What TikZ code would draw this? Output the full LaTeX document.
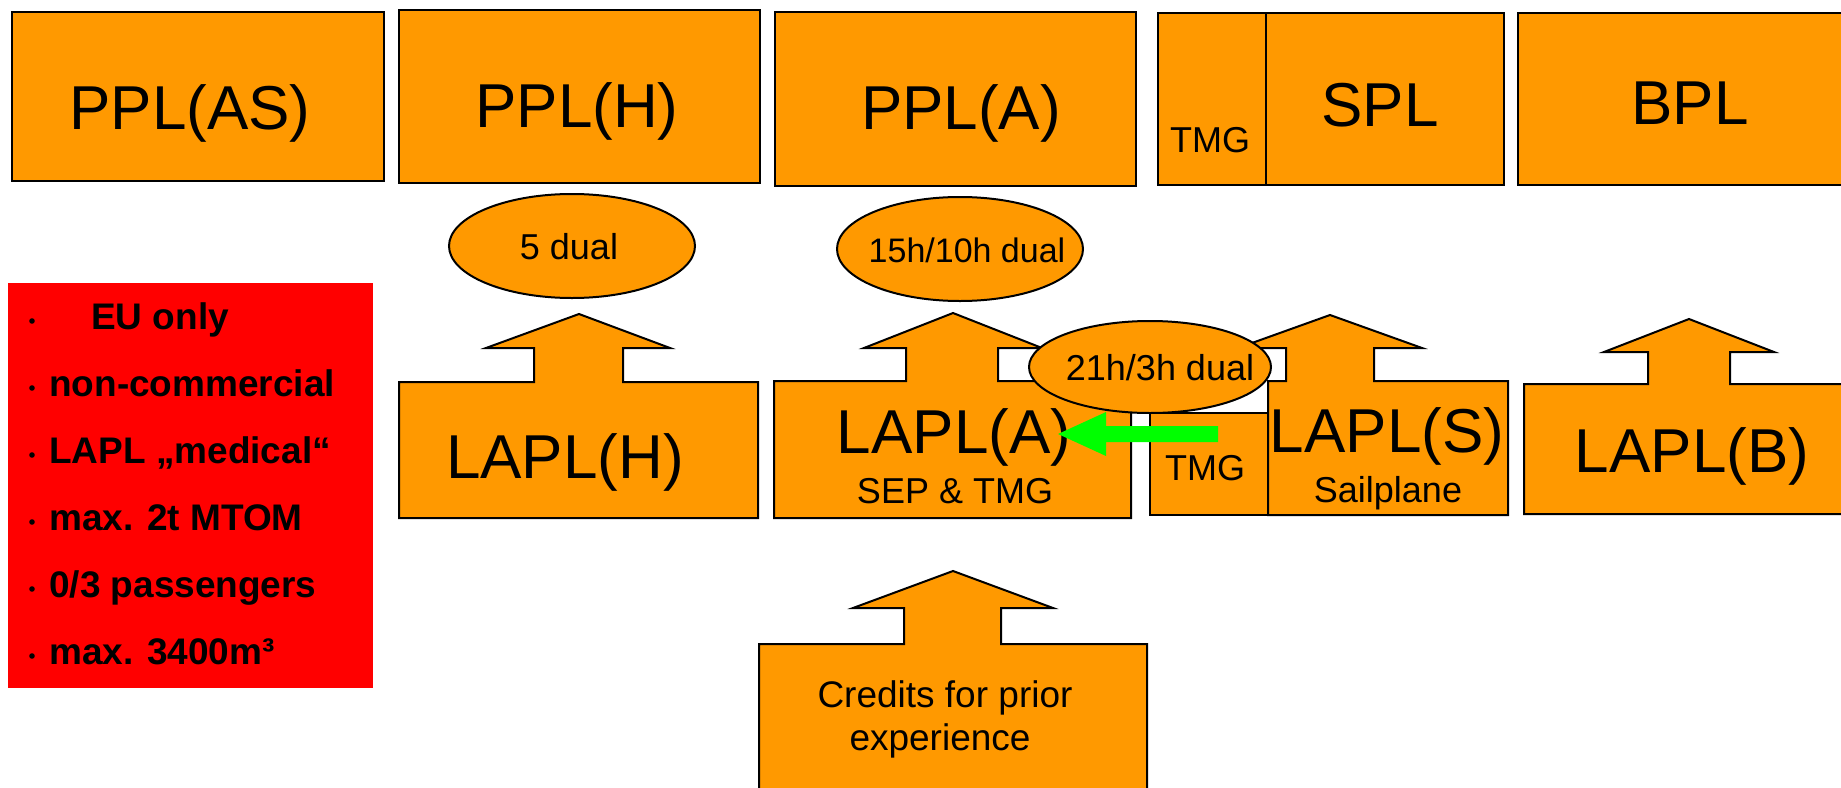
\documentclass[tikz,border=0pt]{standalone}
\usepackage{fontspec}
\setmainfont{Liberation Sans}
\usetikzlibrary{shapes.geometric,calc}
\definecolor{orng}{HTML}{FF9900}
\definecolor{redbox}{HTML}{FF0000}
\definecolor{grn}{HTML}{00FF00}
\begin{document}
\begin{tikzpicture}[x=1pt,y=-1pt,
  obox/.style={fill=orng,draw=black,line width=2pt,line join=miter},
  bigtxt/.style={anchor=base,inner sep=0pt,font=\fontsize{62}{70}\selectfont},
  midtxt/.style={anchor=base,inner sep=0pt,font=\fontsize{36}{42}\selectfont},
  ell/.style={ellipse,fill=orng,draw=black,line width=2pt,inner sep=0pt},
  lst/.style={anchor=base west,inner sep=0pt,font=\bfseries\fontsize{37}{42}\selectfont},
  greenarrow/.style={fill=grn}]
\useasboundingbox (0,0) rectangle (1841,787);
\clip (0,0) rectangle (1841,787);
\fill[white] (0,0) rectangle (1841,787);

% top row
\draw[obox] (12,12) rectangle (384,181);
\draw[obox] (399,10) rectangle (760,183);
\draw[obox] (775,12) rectangle (1136,186);
\draw[obox] (1158,13) rectangle (1266,185);
\draw[obox] (1266,13) rectangle (1504,185);
\draw[obox] (1518,13) rectangle (1860,185);
\node[bigtxt] (pplas) at (190,129) {PPL(AS)};
\node[bigtxt] (pplh) at (577,127) {PPL(H)};
\node[bigtxt] (ppla) at (961,129) {PPL(A)};
\node[midtxt] (tmgtop) at (1210,152) {TMG};
\node[bigtxt] (spl) at (1380,126) {SPL};
\node[bigtxt] (bpl) at (1690,124) {BPL};

% ellipses
\node[ell, minimum width=246pt, minimum height=104pt] (e5) at (572,246) {};
\node[midtxt] (t5) at (569,259) {5 dual};
\node[ell, minimum width=246pt, minimum height=104pt] (e15) at (960,249) {};
\node[anchor=base,inner sep=0pt,font=\fontsize{34}{40}\selectfont] (t15) at (967,262) {15h/10h dual};

% red box
\fill[redbox] (8,283) rectangle (373,688);
\foreach \b in {329,396,463,530,597,664} \fill[black] (32,\b-8) circle[radius=2.8pt];
\node[lst] (l1) at (91,329) {EU only};
\node[lst] (l2) at (49,396) {non-commercial};
\node[lst] (l3) at (49,463) {LAPL „medical“};
\node[lst] (l4) at (49,530) {max. 2t MTOM};
\node[lst] (l5) at (49,597) {0/3 passengers};
\node[lst] (l6) at (49,664) {max. 3400m³};

% LAPL(H)
\draw[obox] (399,518) -- (399,382) -- (534,382) -- (534,348) -- (486,348) -- (579,314) -- (670,348) -- (623,348) -- (623,382) -- (758,382) -- (758,518) -- cycle;
\node[bigtxt] (laplh) at (565,478) {LAPL(H)};

% LAPL(A)
\draw[obox] (774,518) -- (774,381) -- (906,381) -- (906,348) -- (864,348) -- (953,313) -- (1042,348) -- (998,348) -- (998,381) -- (1131,381) -- (1131,518) -- cycle;
\node[bigtxt] (lapla) at (954,453) {LAPL(A)};
\node[midtxt] (sep) at (955,503) {SEP \& TMG};

% TMG + LAPL(S)
\draw[obox] (1150,413) rectangle (1268,515);
\draw[obox] (1268,515) -- (1268,381) -- (1286,381) -- (1286,348) -- (1238,348) -- (1330,315) -- (1422,348) -- (1374,348) -- (1374,381) -- (1508,381) -- (1508,515) -- cycle;
\node[midtxt] (tmglow) at (1205,480) {TMG};
\node[bigtxt] (lapls) at (1387,452) {LAPL(S)};
\node[midtxt] (sail) at (1388,502) {Sailplane};

% LAPL(B)
\draw[obox] (1524,514) -- (1524,384) -- (1648,384) -- (1648,352) -- (1604,352) -- (1689,319) -- (1774,352) -- (1730,352) -- (1730,384) -- (1860,384) -- (1860,514) -- cycle;
\node[bigtxt] (laplb) at (1692,472) {LAPL(B)};

% Credits
\draw[obox] (759,800) -- (759,644) -- (904,644) -- (904,608) -- (853,608) -- (953,571) -- (1053,608) -- (1001,608) -- (1001,644) -- (1147,644) -- (1147,800);
\node[anchor=base,inner sep=0pt,font=\fontsize{37}{43}\selectfont] (cr1) at (945,707) {Credits for prior};
\node[anchor=base,inner sep=0pt,font=\fontsize{37}{43}\selectfont] (cr2) at (940,750) {experience};

% 21h/3h ellipse
\node[ell, minimum width=242pt, minimum height=92pt] (e21) at (1150,367) {};
\node[midtxt] (t21) at (1160,380) {21h/3h dual};

% green arrow
\coordinate (gs) at (1218,434);
\coordinate (gt) at (1058,434);
\fill[greenarrow] ($(gs)+(0,-8)$) -- ($(gt)+(48,-8)$) -- ($(gt)+(48,-22)$) -- (gt) -- ($(gt)+(48,22)$) -- ($(gt)+(48,8)$) -- ($(gs)+(0,8)$) -- cycle;
\end{tikzpicture}
\end{document}
